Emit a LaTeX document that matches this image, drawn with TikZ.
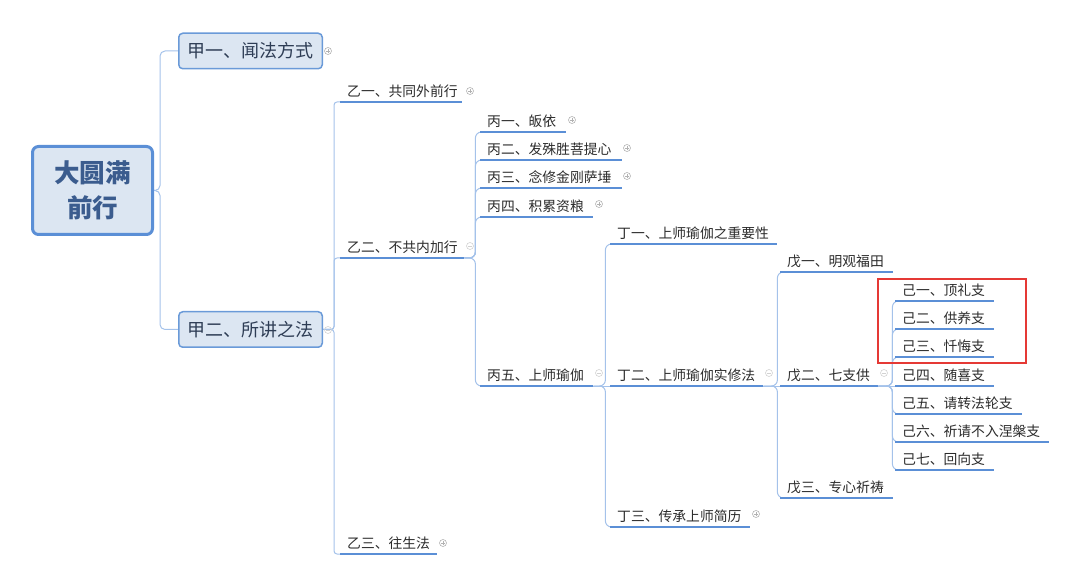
\documentclass[tikz,border=0pt]{standalone}
\usepackage{fontspec}
\setmainfont{Noto Sans CJK SC}
\pgfdeclarelayer{bg}
\pgfsetlayers{bg,main}
\definecolor{boxfill}{HTML}{DCE6F2}
\definecolor{boxline}{HTML}{6A9AD8}
\definecolor{rootline}{HTML}{5B8FD6}
\definecolor{roottxt}{HTML}{3B5C8E}
\definecolor{headtxt}{HTML}{2E3D55}
\definecolor{txt}{HTML}{2B2B2B}
\definecolor{linkc}{HTML}{A4C2EA}
\definecolor{ulc}{HTML}{5B8FD6}
\definecolor{redc}{HTML}{E53935}
\tikzstyle{root}=[draw=rootline, fill=boxfill, line width=3pt, rounded corners=6pt, minimum width=120pt, minimum height=88pt, align=center, text=roottxt, font=\bfseries\fontsize{25.5}{35}\selectfont]
\tikzstyle{major}=[draw=boxline, fill=boxfill, line width=1.5pt, rounded corners=4pt, minimum width=143.5pt, minimum height=35.5pt, text=headtxt, font=\fontsize{18}{20}\selectfont]
\tikzstyle{topic}=[anchor=south west, align=left, inner xsep=7pt, inner ysep=3pt, text height=11pt, text depth=2pt, text=txt, font=\fontsize{13.8}{15}\selectfont]
\tikzstyle{link}=[-, draw=linkc, line width=1pt, rounded corners=6pt]
\tikzstyle{uline}=[-, draw=ulc, line width=2pt]
\tikzstyle{fold}=[circle, draw=gray!60, line width=0.6pt, minimum size=7pt, inner sep=0pt, path picture={\draw[gray!60, line width=0.6pt] ([xshift=-2pt]path picture bounding box.center) -- ([xshift=2pt]path picture bounding box.center) ([yshift=-2pt]path picture bounding box.center) -- ([yshift=2pt]path picture bounding box.center);}]
\tikzstyle{unfold}=[circle, draw=gray!35, line width=0.6pt, minimum size=7pt, inner sep=0pt, path picture={\draw[gray!35, line width=0.6pt] ([xshift=-2pt]path picture bounding box.center) -- ([xshift=2pt]path picture bounding box.center);}]
\tikzstyle{redbox}=[draw=redc, line width=1.6pt]

\begin{document}
\begin{tikzpicture}[x=1pt, y=-1pt]
    \useasboundingbox (0,0) rectangle (1080,588);

    \node [root] (root) at (92.5, 190.5) {大圆满\\前行};
    \node [major] (j1) at (250.5, 51) {甲一、闻法方式};
    \node [major] (j2) at (250.5, 329.5) {甲二、所讲之法};

    \node [topic, text width=108pt] (y1) at (340, 102) {乙一、共同外前行};
    \node [topic, text width=110pt] (y2) at (340, 258) {乙二、不共内加行};
    \node [topic, text width=83pt] (y3) at (340, 554) {乙三、往生法};

    \node [topic, text width=72pt] (b1) at (480, 132) {丙一、皈依};
    \node [topic, text width=128pt] (b2) at (480, 160) {丙二、发殊胜菩提心};
    \node [topic, text width=128pt] (b3) at (480, 188) {丙三、念修金刚萨埵};
    \node [topic, text width=99pt] (b4) at (480, 217) {丙四、积累资粮};
    \node [topic, text width=99pt] (b5) at (480, 386) {丙五、上师瑜伽};

    \node [topic, text width=153pt] (d1) at (610, 244) {丁一、上师瑜伽之重要性};
    \node [topic, text width=139pt] (d2) at (610, 386) {丁二、上师瑜伽实修法};
    \node [topic, text width=126pt] (d3) at (610, 527) {丁三、传承上师简历};

    \node [topic, text width=99pt] (w1) at (780, 272) {戊一、明观福田};
    \node [topic, text width=84pt] (w2) at (780, 386) {戊二、七支供};
    \node [topic, text width=99pt] (w3) at (780, 498) {戊三、专心祈祷};

    \node [topic, text width=85pt] (g1) at (895, 301) {己一、顶礼支};
    \node [topic, text width=85pt] (g2) at (895, 329) {己二、供养支};
    \node [topic, text width=85pt] (g3) at (895, 357) {己三、忏悔支};
    \node [topic, text width=85pt] (g4) at (895, 386) {己四、随喜支};
    \node [topic, text width=113pt] (g5) at (895, 414) {己五、请转法轮支};
    \node [topic, text width=140pt] (g6) at (895, 442) {己六、祈请不入涅槃支};
    \node [topic, text width=85pt] (g7) at (895, 470) {己七、回向支};

    % fold markers
    \node [fold] (fj1) at (328, 51) {};
    \node [unfold] (fj2) at (328, 330) {};
    \node [fold] (fy1) at (470, 91) {};
    \node [unfold] (fy2) at (470, 246) {};
    \node [fold] (fy3) at (443, 543) {};
    \node [fold] (fb1) at (572, 120) {};
    \node [fold] (fb2) at (627, 148) {};
    \node [fold] (fb3) at (627, 176) {};
    \node [fold] (fb4) at (599, 204) {};
    \node [unfold] (fb5) at (599, 373) {};
    \node [unfold] (fd2) at (769, 373) {};
    \node [fold] (fd3) at (756, 514) {};
    \node [unfold] (fw2) at (884, 373) {};

    \foreach \n in {y1,y2,y3,b1,b2,b3,b4,b5,d1,d2,d3,w1,w2,w3,g1,g2,g3,g4,g5,g6,g7}
        \draw [uline] (\n.south west) -- (\n.south east);

    \draw [redbox] (878, 279) rectangle (1026, 363);

    \begin{pgfonlayer}{bg}
        \draw [link, rounded corners=5pt] (root.east) -- ++(6,0) |- (j1.west);
        \draw [link, rounded corners=5pt] (root.east) -- ++(6,0) |- (j2.west);
        \foreach \c in {y1,y2,y3}
            \draw [link, rounded corners=3pt] (j2.east) -- ++(11,0) |- (\c.south west);
        \foreach \c in {b1,b2,b3,b4,b5}
            \draw [link] (y2.south east) -- ++(11,0) |- (\c.south west);
        \foreach \c in {d1,d3}
            \draw [link] (b5.south east) -- ++(12,0) |- (\c.south west);
        \draw [link] (b5.south east) -- (d2.south west);
        \foreach \c in {w1,w3}
            \draw [link] (d2.south east) -- ++(14,0) |- (\c.south west);
        \draw [link] (d2.south east) -- (w2.south west);
        \foreach \c in {g1,g2,g3,g5,g6,g7}
            \draw [link] (w2.south east) -- ++(14,0) |- (\c.south west);
        \draw [link] (w2.south east) -- (g4.south west);
    \end{pgfonlayer}
\end{tikzpicture}
\end{document}
